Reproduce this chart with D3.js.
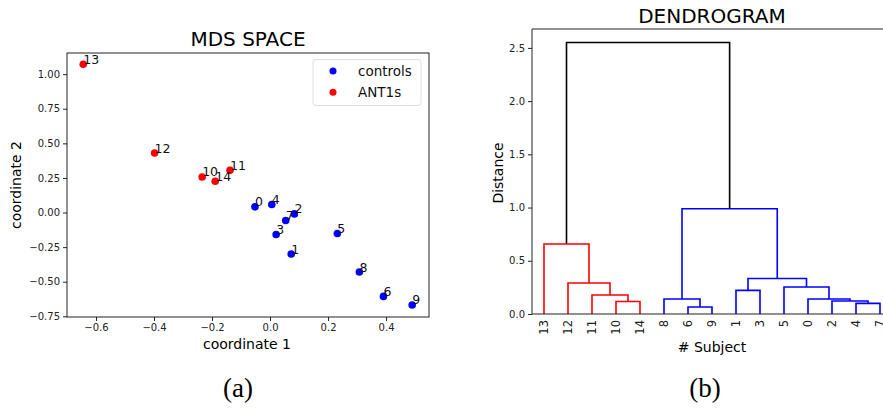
<!DOCTYPE html>
<html><head><meta charset="utf-8">
<script src="https://cdn.jsdelivr.net/npm/d3@7"></script>
<style>
html,body{margin:0;padding:0;background:#fff;}
text{font-family:"DejaVu Sans",sans-serif;}
</style></head>
<body>
<svg id="c" width="883" height="408"></svg>
<script>
// ---------- MDS data ----------
const subjectIds = [0,1,2,3,4,5,6,7,8,9,10,11,12,13,14];
const coord1 = [-0.052,0.073,0.084,0.021,0.006,0.232,0.391,0.054,0.308,0.490,-0.234,-0.138,-0.398,-0.644,-0.189];
const coord2 = [0.041,-0.300,-0.010,-0.159,0.058,-0.151,-0.606,-0.058,-0.430,-0.668,0.257,0.305,0.430,1.072,0.226];
const groups = ["controls","controls","controls","controls","controls","controls","controls","controls","controls","controls","ANT1s","ANT1s","ANT1s","ANT1s","ANT1s"];
const legendLabels = ["controls","ANT1s"];
const xTicks1 = [-0.6,-0.4,-0.2,0.0,0.2,0.4];
const yTicks1 = [-0.75,-0.50,-0.25,0.00,0.25,0.50,0.75,1.00];

// ---------- Dendrogram data (scipy-style linkage: a, b, height) ----------
const linkA = [6,4,10,2,8,0,11,1,5,12,22,13,19,26];
const linkB = [9,7,14,16,15,18,17,3,20,21,23,24,25,27];
const linkH = [0.066,0.100,0.118,0.122,0.141,0.141,0.178,0.222,0.254,0.291,0.334,0.657,0.989,2.55];
const yTicks2 = [0.0,0.5,1.0,1.5,2.0,2.5];

const colorMap = {controls:"#0000ff", ANT1s:"#ff0000"};
const svg = d3.select("#c");

// ================= Left: MDS SPACE =================
(function(){
  const L=67,T=53,R=429,B=317;
  const x = d3.scaleLinear().domain([-0.700,0.548]).range([L,R]);
  const y = d3.scaleLinear().domain([-0.755,1.153]).range([B,T]);
  const g = svg.append("g");
  g.append("rect").attr("x",L).attr("y",T).attr("width",R-L).attr("height",B-T)
    .attr("fill","none").attr("stroke","#222").attr("stroke-width",1);
  const xa = g.append("g").attr("transform",`translate(0,${B})`)
    .call(d3.axisBottom(x).tickValues(xTicks1).tickFormat(d=>d3.format(".1f")(d).replace("-","\u2212")).tickSize(4).tickPadding(3));
  const ya = g.append("g").attr("transform",`translate(${L},0)`)
    .call(d3.axisLeft(y).tickValues(yTicks1).tickFormat(d=>d3.format(".2f")(d).replace("-","\u2212")).tickSize(4).tickPadding(3));
  [xa,ya].forEach(a=>{a.select(".domain").remove();
    a.selectAll("text").attr("font-size",10).attr("fill","#222").attr("font-family","DejaVu Sans");
    a.selectAll("line").attr("stroke","#222");});
  g.selectAll("circle.pt").data(subjectIds).enter().append("circle")
    .attr("cx",i=>x(coord1[i])).attr("cy",i=>y(coord2[i])).attr("r",3.8)
    .attr("fill",i=>colorMap[groups[i]]);
  g.selectAll("text.lbl").data(subjectIds).enter().append("text")
    .attr("x",i=>x(coord1[i])).attr("y",i=>y(coord2[i])-0.5)
    .attr("font-size",12.5).attr("fill","#111").text(i=>i);
  g.append("text").attr("x",248).attr("y",46).attr("text-anchor","middle").attr("font-size",20).text("MDS SPACE");
  g.append("text").attr("x",247).attr("y",349).attr("text-anchor","middle").attr("font-size",14).text("coordinate 1");
  g.append("text").attr("transform","translate(21,185) rotate(-90)").attr("text-anchor","middle").attr("font-size",14).text("coordinate 2");
  // legend
  g.append("rect").attr("x",313).attr("y",59.5).attr("width",108).attr("height",46).attr("rx",3)
    .attr("fill","#fff").attr("stroke","#ddd");
  legendLabels.forEach((lab,k)=>{
    g.append("circle").attr("cx",333).attr("cy",71+k*21.3).attr("r",3.5).attr("fill",colorMap[lab]);
    g.append("text").attr("x",358).attr("y",76+k*21.3).attr("font-size",13.5).attr("fill","#111").text(lab);
  });
  g.append("text").attr("x",238).attr("y",397).attr("text-anchor","middle")
    .style("font-family","'Liberation Serif',serif").attr("font-size",27).text("(a)");
})();

// ================= Right: DENDROGRAM =================
(function(){
  const L=532,T=29,R=892,B=314;
  const nLeaves = 15;
  const nodes = {};
  for(let i=0;i<nLeaves;i++) nodes[i]={id:i,h:0,children:null};
  linkA.forEach((a,k)=>{ nodes[nLeaves+k]={id:nLeaves+k,h:linkH[k],children:[nodes[a],nodes[linkB[k]]]}; });
  const root = d3.hierarchy(nodes[nLeaves+linkA.length-1], d=>d.children);
  const leaves = root.leaves();
  leaves.forEach((lf,i)=>{ lf.pos = 5+10*i; });
  root.eachAfter(n=>{ if(n.children) n.pos=(n.children[0].pos+n.children[1].pos)/2; });
  const x = d3.scaleLinear().domain([0,10*nLeaves]).range([L,R]);
  const y = d3.scaleLinear().domain([0,2.55*1.05]).range([B,T]);
  const g = svg.append("g");
  root.each(n=>{
    if(n.depth===0){ n.col="#000000"; }
    else { const lid=n.leaves()[0].data.id; n.col=colorMap[groups[lid]]; }
  });
  const pathG = g.append("g");
  root.descendants().filter(n=>n.children).forEach(n=>{
    const [c0,c1]=n.children;
    const p = d3.path();
    p.moveTo(x(c0.pos),y(c0.data.h)); p.lineTo(x(c0.pos),y(n.data.h));
    p.lineTo(x(c1.pos),y(n.data.h)); p.lineTo(x(c1.pos),y(c1.data.h));
    pathG.append("path").attr("d",p.toString()).attr("fill","none")
      .attr("stroke",n.col).attr("stroke-width",1.6);
  });
  g.append("line").attr("x1",L).attr("x2",R).attr("y1",T).attr("y2",T).attr("stroke","#222");
  g.append("line").attr("x1",L).attr("x2",L).attr("y1",T).attr("y2",B).attr("stroke","#222");
  g.append("line").attr("x1",L).attr("x2",R).attr("y1",B).attr("y2",B).attr("stroke","#222");
  const ya = g.append("g").attr("transform",`translate(${L},0)`)
    .call(d3.axisLeft(y).tickValues(yTicks2).tickFormat(d3.format(".1f")).tickSize(4).tickPadding(3));
  ya.select(".domain").remove();
  ya.selectAll("text").attr("font-size",10).attr("fill","#222").attr("font-family","DejaVu Sans");
  ya.selectAll("line").attr("stroke","#222");
  leaves.forEach(lf=>{
    g.append("text").attr("transform",`translate(${x(lf.pos)+4},${B+6}) rotate(-90)`)
      .attr("text-anchor","end").attr("font-size",11.5).attr("fill","#222").text(lf.data.id);
  });
  g.append("text").attr("x",712).attr("y",23).attr("text-anchor","middle").attr("font-size",20).text("DENDROGRAM");
  g.append("text").attr("x",712).attr("y",352).attr("text-anchor","middle").attr("font-size",14).text("# Subject");
  g.append("text").attr("transform","translate(503,173) rotate(-90)").attr("text-anchor","middle").attr("font-size",14).text("Distance");
  g.append("text").attr("x",705).attr("y",397).attr("text-anchor","middle")
    .style("font-family","'Liberation Serif',serif").attr("font-size",27).text("(b)");
})();
</script>
</body></html>
